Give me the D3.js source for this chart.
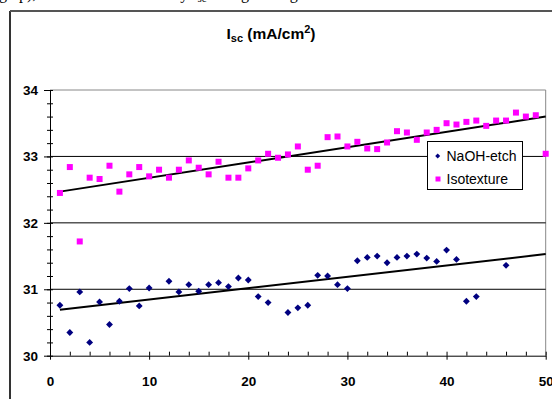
<!DOCTYPE html>
<html><head><meta charset="utf-8">
<script src="https://cdn.jsdelivr.net/npm/d3@7"></script>
<style>body{margin:0;background:#fff;} svg{display:block;}</style>
</head><body>
<script>
// ---- data ----
const isoX = d3.range(1, 51);
const isoY = [32.45,32.84,31.72,32.68,32.66,32.86,32.47,32.73,32.84,32.70,
              32.80,32.68,32.80,32.94,32.83,32.73,32.92,32.68,32.68,32.82,
              32.94,33.04,32.98,33.03,33.15,32.80,32.86,33.29,33.30,33.15,
              33.22,33.12,33.11,33.21,33.38,33.36,33.25,33.36,33.40,33.50,
              33.48,33.52,33.54,33.46,33.54,33.54,33.66,33.60,33.62,33.04];
const naohX = [1,2,3,4,5,6,7,8,9,10,12,13,14,15,16,17,18,19,20,21,22,
               24,25,26,27,28,29,30,31,32,33,34,35,36,37,38,39,40,41,42,43,46];
const naohY = [30.76,30.35,30.96,30.20,30.81,30.47,30.82,31.01,30.75,31.02,
               31.12,30.96,31.07,30.97,31.07,31.10,31.04,31.17,31.14,30.89,30.80,
               30.65,30.72,30.76,31.21,31.20,31.07,31.01,31.43,31.48,31.50,31.40,
               31.48,31.50,31.53,31.47,31.42,31.59,31.45,30.82,30.89,31.36];
const isoTrendX = [1, 50], isoTrendY = [32.47, 33.60];
const naohTrendX = [1, 50], naohTrendY = [30.69, 31.53];
const yMajor = [30, 31, 32, 33, 34];
const xMajor = [0, 10, 20, 30, 40, 50];
const gridVals = [31, 32, 33];
const seriesNames = ["NaOH-etch", "Isotexture"];

// ---- layout ----
const W = 552, H = 399;
const svg = d3.select("body").append("svg").attr("width", W).attr("height", H);
const x = d3.scaleLinear().domain([0, 50]).range([50, 545.7]);
const y = d3.scaleLinear().domain([30, 34]).range([355.7, 90]);
const FONT = "'Liberation Sans', Arial, sans-serif";

// cut-off document text at the top (only the lower part of the line is in view)
const topText = svg.append("text").attr("x", -1).attr("y", -1.5)
  .attr("font-family", "'Liberation Serif', 'Times New Roman', serif").attr("font-size", 16).attr("fill", "#000");
topText.append("tspan").text("g up), which was reflected by I");
topText.append("tspan").attr("font-size", 11).attr("dy", 3).text("sc");
topText.append("tspan").attr("dy", -3).text(" change in Fig.");

// outer chart frame
svg.append("line").attr("x1", 10).attr("x2", 10).attr("y1", 11).attr("y2", H + 2)
  .attr("stroke", "#333").attr("stroke-width", 2);
svg.append("line").attr("x1", 10).attr("x2", W + 2).attr("y1", 11).attr("y2", 11)
  .attr("stroke", "#555").attr("stroke-width", 2);

// title
const title = svg.append("text").attr("x", 271).attr("y", 38.5).attr("text-anchor", "middle")
  .attr("font-family", FONT).attr("font-weight", "bold").attr("font-size", 15.5).attr("fill", "#000");
title.append("tspan").text("I");
title.append("tspan").attr("font-size", 11).attr("dy", 3).text("sc");
title.append("tspan").attr("dy", -3).text(" (mA/cm");
title.append("tspan").attr("font-size", 11).attr("dy", -6).text("2");
title.append("tspan").attr("dy", 6).text(")");

// plot area border (top + right grey)
svg.append("line").attr("x1", x(0)).attr("x2", x(50)).attr("y1", y(34)).attr("y2", y(34))
  .attr("stroke", "#888").attr("stroke-width", 1);
svg.append("line").attr("x1", x(50)).attr("x2", x(50)).attr("y1", y(34)).attr("y2", y(30))
  .attr("stroke", "#888").attr("stroke-width", 1);

// gridlines
svg.append("g").selectAll("line").data(gridVals).join("line")
  .attr("x1", x(0)).attr("x2", x(50)).attr("y1", d => y(d)).attr("y2", d => y(d))
  .attr("stroke", "#000").attr("stroke-width", 1);

// trend lines
const line = d3.line().x(d => x(d[0])).y(d => y(d[1]));
svg.append("path").datum(isoTrendX.map((v, i) => [v, isoTrendY[i]])).attr("d", line)
  .attr("fill", "none").attr("stroke", "#000").attr("stroke-width", 2);
svg.append("path").datum(naohTrendX.map((v, i) => [v, naohTrendY[i]])).attr("d", line)
  .attr("fill", "none").attr("stroke", "#000").attr("stroke-width", 2);

// axes
function styleAxis(g, fontSize) {
  g.select(".domain").attr("stroke", "#000");
  g.selectAll(".tick line").attr("stroke", "#000");
  g.selectAll("text").attr("font-family", FONT).attr("font-weight", "bold")
    .attr("font-size", fontSize).attr("fill", "#000");
}
// y minor ticks (crossing)
svg.append("g").attr("transform", `translate(${x(0)},0)`)
  .call(d3.axisLeft(y).tickValues(d3.range(30, 34.01, 0.2)).tickSize(3).tickFormat(""))
  .call(g => { g.select(".domain").remove(); g.selectAll("line").attr("stroke", "#000"); });
svg.append("g").attr("transform", `translate(${x(0)},0)`)
  .call(d3.axisRight(y).tickValues(d3.range(30, 34.01, 0.2)).tickSize(3).tickFormat(""))
  .call(g => { g.select(".domain").remove(); g.selectAll("line").attr("stroke", "#000"); });
// y major
svg.append("g").attr("transform", `translate(${x(0)},0)`)
  .call(d3.axisLeft(y).tickValues(yMajor).tickSize(6).tickSizeOuter(0).tickPadding(6).tickFormat(d3.format("d")))
  .call(g => styleAxis(g, 13.5));
// x minor ticks (inside)
svg.append("g").attr("transform", `translate(0,${y(30)})`)
  .call(d3.axisTop(x).tickValues(d3.range(0, 50.01, 2)).tickSize(4).tickFormat(""))
  .call(g => { g.select(".domain").remove(); g.selectAll("line").attr("stroke", "#000"); });
// x major
svg.append("g").attr("transform", `translate(0,${y(30)})`)
  .call(d3.axisBottom(x).tickValues(xMajor).tickSize(4).tickSizeOuter(0).tickPadding(17).tickFormat(d3.format("d")))
  .call(g => styleAxis(g, 13.5));

// markers
const diamond = d3.symbol().type(d3.symbolDiamond2).size(30);
svg.append("g").selectAll("path").data(naohX.map((v, i) => [v, naohY[i]])).join("path")
  .attr("d", diamond).attr("transform", d => `translate(${x(d[0])},${y(d[1])})`)
  .attr("fill", "#000080");
svg.append("g").selectAll("rect").data(isoX.map((v, i) => [v, isoY[i]])).join("rect")
  .attr("x", d => x(d[0]) - 3).attr("y", d => y(d[1]) - 3).attr("width", 6).attr("height", 6)
  .attr("fill", "#FF00FF");

// legend
const lg = svg.append("g");
lg.append("rect").attr("x", 427.5).attr("y", 141.5).attr("width", 95).attr("height", 48)
  .attr("fill", "#fff").attr("stroke", "#000").attr("stroke-width", 1);
const rows = lg.selectAll("g.row").data(seriesNames).join("g").attr("class", "row")
  .attr("transform", (d, i) => `translate(0,${156 + i * 23})`);
rows.each(function (d, i) {
  const r = d3.select(this);
  if (i === 0) {
    r.append("path").attr("d", d3.symbol().type(d3.symbolDiamond2).size(16)())
      .attr("transform", "translate(437.7,0)").attr("fill", "#000080");
  } else {
    r.append("rect").attr("x", 435.5).attr("y", -2.5).attr("width", 5).attr("height", 5).attr("fill", "#FF00FF");
  }
  r.append("text").attr("x", 446.5).attr("y", 0).attr("dy", "0.36em").text(d)
    .attr("font-family", FONT).attr("font-size", 14).attr("fill", "#000");
});
</script>
</body></html>
